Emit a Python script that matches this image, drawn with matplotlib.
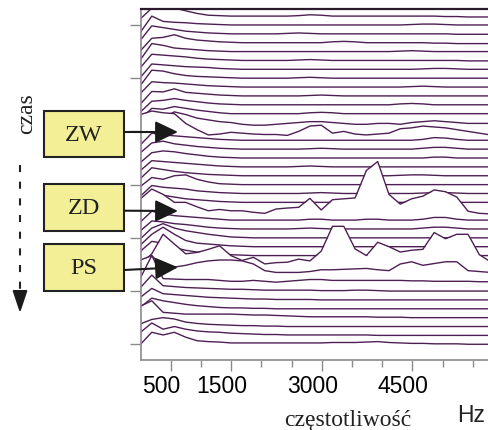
import numpy as np
import matplotlib
matplotlib.use('Agg')
import matplotlib.pyplot as plt
import matplotlib.transforms as mtransforms
from matplotlib.patches import Rectangle, FancyArrowPatch, Polygon, ArrowStyle

# widmo kolejnych ramek (od najstarszej u gory do najnowszej na dole),
# wartosci wzgledem linii bazowej danej ramki
bin_hz = 187
freqs = np.arange(32) * bin_hz

spectra = [
    [-0.3, 0.9, 0.9, 0.9, 0.6, 0.3, 0.1, 0.05, 0, 0, 0, 0, 0, 0, 0.05, 0.15, 0.1, 0, 0, 0, 0, 0, 0, 0, 0, 0, 0, -0.05, -0.05, -0.1, -0.1, -0.1],
    [-0.8, 1.0, 0.4, 0.3, 0.25, 0.15, 0.1, 0.05, 0, 0, 0, 0, 0, 0, 0, 0, 0, 0, 0, 0, 0, 0, 0, 0, 0.05, 0.1, 0.1, 0.05, 0, 0, 0, 0],
    [-0.7, 0.9, 0.7, 0.5, 0.3, 0.2, 0.1, 0.05, 0, 0, 0, 0, 0, 0.05, 0.1, 0.05, 0, 0, 0, 0, 0, 0, 0, 0, 0, 0, 0, 0, -0.05, -0.05, -0.05, -0.05],
    [-0.9, 0.5, 0.6, 0.9, 0.5, 0.3, 0.2, 0.1, 0.05, 0, 0, 0, 0, 0, 0, 0, 0, 0.1, 0.15, 0.1, 0, 0, 0, 0, 0, 0, -0.05, -0.05, -0.1, -0.1, -0.1, -0.1],
    [-0.9, 0.9, 0.7, 0.4, 0.3, 0.2, 0.1, 0.05, 0, 0, 0, 0, 0, 0, 0, 0, 0, 0, 0, 0, 0, 0, 0, 0.05, 0.1, 0.05, 0, 0, 0, 0, 0, 0],
    [-0.8, 0.7, 0.6, 0.5, 0.4, 0.25, 0.15, 0.1, 0.05, 0, 0, 0, 0, 0, 0.05, 0.1, 0.05, 0, 0, 0, 0, 0, 0, 0, 0, 0, 0, 0, 0, -0.05, -0.05, -0.05],
    [-0.9, 0.6, 0.5, 0.4, 0.3, 0.25, 0.2, 0.1, 0.05, 0, 0, 0, 0, 0, 0, 0, 0, 0, 0, 0, 0, 0, 0, 0, 0, 0.05, 0.1, 0.1, 0.05, 0, 0, 0],
    [-0.8, 0.9, 0.8, 0.5, 0.3, 0.2, 0.15, 0.1, 0.05, 0, 0, 0, 0, 0, 0.05, 0.1, 0.05, 0, 0, 0, 0, 0, 0, 0, 0, 0, 0, 0, 0, 0, 0, 0],
    [-0.7, 0.6, 0.5, 0.45, 0.35, 0.25, 0.15, 0.1, 0.05, 0, 0, 0, 0, 0, 0, 0, 0, 0, 0, 0, 0, 0, 0, 0, 0.05, 0.1, 0.05, 0, 0, 0, 0, 0],
    [-0.9, 0.5, 0.45, 0.8, 0.4, 0.3, 0.2, 0.1, 0.05, 0, 0, 0, 0, 0, 0, 0.05, 0.1, 0.05, 0, 0, 0, 0, 0, 0, 0, 0, 0, 0, 0, 0, 0, 0],
    [-0.8, 0.4, 0.5, 0.7, 0.5, 0.35, 0.2, 0.1, 0.05, 0, 0, 0, 0, 0, 0, 0, 0, 0, 0, 0, 0, 0, 0, 0.1, 0.15, 0.1, 0, 0, 0, 0, 0, 0],
    [-0.6, 0.6, 0.5, 0.8, 0.6, 0.4, 0.25, 0.1, 0, 0, 0, 0, 0, 0, 0, 0.1, 0.15, 0.1, 0, 0, 0, 0, 0, 0, 0, 0, 0, 0, 0, 0, 0, 0],
    [-0.4, 0.8, 0.6, 1.2, 0.9, 0.5, 0.3, 0.1, 0, -0.2, -0.3, -0.3, -0.2, -0.1, 0, 0.1, 0.1, 0, -0.1, -0.2, -0.2, -0.1, -0.1, -0.2, 0, 0.1, 0.2, 0.1, 0, -0.1, -0.1, -0.1],
    [1.9, 2.3, 2.1, 2.0, 0.9, 0.2, -0.4, -0.3, -0.1, -0.2, -0.3, -0.35, -0.35, -0.45, 0.0, 0.6, 0.7, -0.2, 0.0, -0.3, -0.4, -0.3, -0.2, 0.3, 0.4, 0.6, 0.5, 0.4, 0.2, 0.0, -0.2, -0.4],
    [-0.5, 0.8, 0.6, 0.5, 0.4, 0.3, 0.2, 0.1, 0.05, 0, 0, 0, 0, 0, 0, 0, 0, 0, 0, 0, 0, 0, 0, 0, 0, 0.1, 0.3, 0.25, 0.1, 0, 0, 0],
    [-0.4, 0.7, 0.9, 0.6, 0.45, 0.3, 0.2, 0.1, 0.05, 0, 0, 0, 0, 0, 0, 0.05, 0.1, 0.05, 0, 0, 0, 0, 0, 0, 0, 0.1, 0.2, 0.2, 0.1, 0, 0, 0],
    [-0.5, 0.6, 0.8, 0.7, 0.5, 0.35, 0.2, 0.1, 0.05, 0, 0, 0, 0, 0, 0, 0, 0, 0, 0, 0, 0, 0, 0, 0, 0, 0, 0.1, 0.1, 0, 0, 0, 0],
    [-0.4, 0.7, 0.6, 0.5, 0.4, 0.3, 0.2, 0.1, 0.05, 0, 0, 0, 0, 0, 0.05, 0.1, 0.05, 0, 0, 0, 0, 0, 0, 0, 0, 0, 0, 0, 0, 0, 0, 0],
    [-0.3, 0.9, 0.7, 0.5, 0.35, 0.25, 0.15, 0.1, 0.05, 0, 0, 0, 0, 0, 0, 0, 0, 0, 0, 0, 0, 0, 0, 0.05, 0.1, 0.1, 0.05, 0, 0, 0, 0, 0],
    [-0.2, 0.8, 0.6, 1.0, 1.1, 0.6, 0.3, 0.1, 0.05, 0, 0, 0, 0, 0, 0, 0, 0, 0, 0, 0, 0, 0, 0, 0, 0, 0, 0, 0, 0, 0, 0, 0],
    [-0.3, 0.9, 0.7, 0.6, 0.5, 0.3, 0.2, 0.1, 0.05, 0, 0, 0, 0, 0, 0, 0.05, 0.1, 0.05, 0, 0, 0, 0, 0, 0, 0, 0.05, 0.1, 0.1, 0.05, 0, 0, 0],
    [-0.2, 1.0, 0.8, 0.6, 0.4, 0.3, 0.2, 0.1, 0.05, 0, 0, 0, 0, 0, 0, 0, 0, 0, 0, 0, 0, 0, 0, 0, 0, 0, 0, 0, 0, 0, 0, 0],
    [1.4, 2.5, 1.9, 1.0, 1.0, 0.5, 0.05, 0.2, 0.05, 0.05, -0.12, -0.24, 0.25, 0.36, 0.44, 1.45, 0.14, 1.3, 1.4, 1.5, 4.6, 5.6, 1.9, 0.8, 1.4, 1.7, 2.4, 2.2, 1.6, 0.0, -0.24, -0.3],
    [-0.2, 1.0, 0.7, 0.5, 0.4, 0.3, 0.2, 0.1, 0, 0, 0, 0, 0, 0, 0, 0.1, 0.1, 0, 0, 0, 0.1, 0.1, 0, 0, 0, 0.1, 0.3, 0.3, 0.1, 0, 0, 0],
    [-0.2, 0.9, 0.8, 0.6, 0.5, 0.35, 0.2, 0.1, 0.05, 0, 0, 0, 0, 0, 0.05, 0.1, 0.05, 0, 0, 0, 0, 0, 0, 0, 0, 0.1, 0.2, 0.2, 0.1, 0, 0, 0],
    [-0.1, 1.1, 1.6, 1.1, 0.8, 0.6, 0.4, 0.25, 0.1, 0.05, 0, 0, 0, 0, 0, 0, 0, 0, 0, 0, 0, 0, 0, 0, 0, 0, 0, 0, 0, 0, 0, 0],
    [0.2, 1.4, 2.2, 1.4, 0.7, 0.4, 0.3, 0.2, 0.1, 0.05, 0, 0, 0, 0, 0, 0, 0, 0, 0, 0, 0, 0, 0, 0, 0, 0, 0, 0, 0, 0, 0, 0],
    [0.5, 1.6, 1.4, 0.9, 0.6, 0.4, 0.3, 0.2, 0.1, 0.05, 0, 0, 0, 0, 0, 0, 0, 0, 0, 0, 0, 0, 0, 0, 0, 0, 0, 0, 0, 0, 0, 0],
    [0.0, 1.2, 3.4, 2.3, 1.2, 1.35, 1.7, 2.1, 1.0, 0.45, 0.8, 0.06, 0.2, 0.25, 0.6, 0.4, 1.5, 4.3, 4.3, 1.75, 1.0, 2.5, 2.0, 1.4, 1.6, 1.7, 3.6, 2.9, 3.4, 3.4, 1.1, 0.3],
    [1.5, 2.0, 0.7, 0.7, 0.9, 1.2, 1.4, 1.5, 1.5, 1.4, 1.05, 0.3, 0.1, 0.1, 0.1, 0.2, 0.4, 0.4, 0.45, 0.5, 0.55, 0.4, 0.3, 1.05, 1.3, 0.9, 1.1, 1.3, 1.3, 0.3, 0.2, 0.1],
    [0.5, 3.0, 0.4, 0.35, 0.3, 0.3, 0.3, 0.2, 0.1, 0.1, 0.2, 0.1, 0.0, 0.1, 0.2, 0.3, 0.3, 0.2, 0.2, 0.2, 0.2, 0.2, 0.2, 0.2, 0.15, 0.15, 0.1, 0.1, 0.1, 0.1, 0.05, 0.05],
    [0.4, 1.8, 0.6, 0.5, 0.4, 0.35, 0.3, 0.25, 0.2, 0.2, 0.15, 0.1, 0.1, 0.1, 0.1, 0.1, 0.05, 0.05, 0.05, 0.1, 0.1, 0.05, 0, 0, 0, 0, 0, 0, 0, 0, 0, 0],
    [0.3, 1.3, 0.7, 0.6, 0.5, 0.4, 0.3, 0.25, 0.2, 0.15, 0.1, 0.1, 0.05, 0.05, 0.05, 0.05, 0, 0, 0, 0, 0, 0, 0, 0, 0, 0, 0, 0, 0, 0, 0, 0],
    [0.2, 1.2, 0.9, 0.7, 0.5, 0.35, 0.25, 0.15, 0.1, 0.1, 0.05, 0.05, 0, 0, 0, 0, 0, 0, 0, 0, 0, 0, 0, 0, 0, 0, 0, 0, 0, 0, 0, 0],
    [1.3, 1.9, 0.6, 0.5, 0.4, 0.4, 0.4, 0.4, 0.4, 0.35, 0.3, 0.3, 0.25, 0.2, 0.15, 0.1, 0.1, 0.1, 0.1, 0.1, 0.1, 0.05, 0.05, 0.05, 0, 0, 0, 0, 0, 0, 0, 0],
    [0.3, 0.8, 1.0, 0.85, 0.5, 0.35, 0.25, 0.2, 0.15, 0.1, 0.1, 0.05, 0.05, 0, 0, 0, 0, 0, 0, 0, 0, 0, 0, 0, 0, 0, 0, 0, 0, 0, 0, 0],
    [0.35, 1.4, 0.7, 1.0, 0.7, 0.5, 0.4, 0.35, 0.25, 0.2, 0.15, 0.1, 0.1, 0.05, 0.05, 0.05, 0.05, 0.05, 0.05, 0.05, 0.05, 0, 0, 0, 0, 0, 0, 0, 0, 0, 0, 0],
    [0.0, 1.35, 1.05, 1.35, 0.8, 0.4, 0.3, 0.25, 0.15, 0.15, 0.15, 0.15, 0.15, 0.15, 0.15, 0.15, 0.15, 0.2, 0.2, 0.2, 0.25, 0.3, 0.2, 0.15, 0.1, 0.1, 0.05, 0.05, 0.05, 0, 0, 0],
]

x_major = [500, 1500, 3000, 4500]
x_major_labels = ['500', '1500', '3000', '4500']
x_minor = [1000, 2000, 2500, 3500, 4000, 5000, 5500]
y_ticks = [0, 6, 12, 18, 24, 30, 36]

# adnotacje: etykieta, gorna krawedz ramki (px), poczatek i koniec strzalki (px)
labels = ['ZW', 'ZD', 'PS']
box_tops = [111.7, 185.0, 245.0]
arrow_y_start = [133.0, 211.7, 271.0]
arrow_y_end = [133.0, 212.0, 268.3]

line_col = '#4e1f54'
serif = ['Liberation Serif', 'DejaVu Serif']
sans = ['Liberation Sans', 'DejaVu Sans']

W, H = 489, 431
fig = plt.figure(figsize=(W / 100, H / 100), dpi=100)
ax = fig.add_axes([140.5 / W, (H - 360.7) / H, (W - 140.5) / W, (360.7 - 10) / H])

n = len(spectra)
for t, row in enumerate(spectra):
    base = n - 1 - t
    y = base + np.array(row)
    ax.fill_between(freqs, y, -5, color='white', lw=0, zorder=2 * t + 1)
    ax.plot(freqs, y, color=line_col, lw=1.0, zorder=2 * t + 2)

ax.set_xlim(0, (W - 140.5) / 0.0604)
ax.set_ylim(-1.74, 37.8)

ax.set_xticks(x_major)
ax.set_xticklabels(x_major_labels, fontsize=16.5, family=sans)
ax.set_xticks(x_minor, minor=True)
ax.set_yticks(y_ticks)
ax.set_yticklabels([])
ax.tick_params(axis='x', which='major', length=8, width=1, color='#8a8a8a', pad=2)
ax.tick_params(axis='x', which='minor', length=5, width=1, color='#8a8a8a')
ax.tick_params(axis='y', length=8, width=1, color='#8a8a8a')
offset = mtransforms.ScaledTranslation(-0.09, 0, fig.dpi_scale_trans)
for lab in ax.get_xticklabels():
    lab.set_transform(lab.get_transform() + offset)

ax.spines['right'].set_visible(False)
ax.spines['top'].set_color('#2a1a2c')
ax.spines['top'].set_linewidth(1.6)
for s in ['left', 'bottom']:
    ax.spines[s].set_color('#8a8a8a')
    ax.spines[s].set_linewidth(1.2)
for s in ax.spines.values():
    s.set_zorder(200)

# warstwa z ramkami, strzalkami i podpisami (wspolrzedne w pikselach)
ov = fig.add_axes([0, 0, 1, 1])
ov.set_xlim(0, W)
ov.set_ylim(H, 0)
ov.axis('off')
ov.set_zorder(5)

for lab, top, ys, ye in zip(labels, box_tops, arrow_y_start, arrow_y_end):
    ov.add_patch(Rectangle((44, top), 80, 46.5, facecolor='#f3ef96',
                           edgecolor='#222222', lw=1.5))
    ov.text(84, top + 24, lab, fontsize=17.5, family=serif, color='#222222',
            ha='center', va='center')
    ov.add_patch(FancyArrowPatch((124, ys), (178, ye),
                                 arrowstyle=ArrowStyle('-|>', head_length=14, head_width=6.7),
                                 mutation_scale=1, color='#1a1a1a', lw=1.5,
                                 shrinkA=0, shrinkB=0))

# strzalka czasu
ov.plot([20, 20], [165.5, 292], color='#222222', lw=1.5, ls=(0, (3.4, 4.6)))
ov.add_patch(Polygon([(13.3, 291.7), (26.7, 291.7), (20, 311.7)], closed=True,
                     color='#1a1a1a'))
ov.text(27, 114, 'czas', rotation=90, fontsize=17, family=serif, color='#222222',
        ha='center', va='center')

ov.text(348, 421, 'częstotliwość', fontsize=17, family=serif, color='#222222',
        ha='center', va='center')
ov.text(471, 416, 'Hz', fontsize=16.5, family=sans, color='#222222',
        ha='center', va='center')

fig.savefig('out.png', dpi=100)
